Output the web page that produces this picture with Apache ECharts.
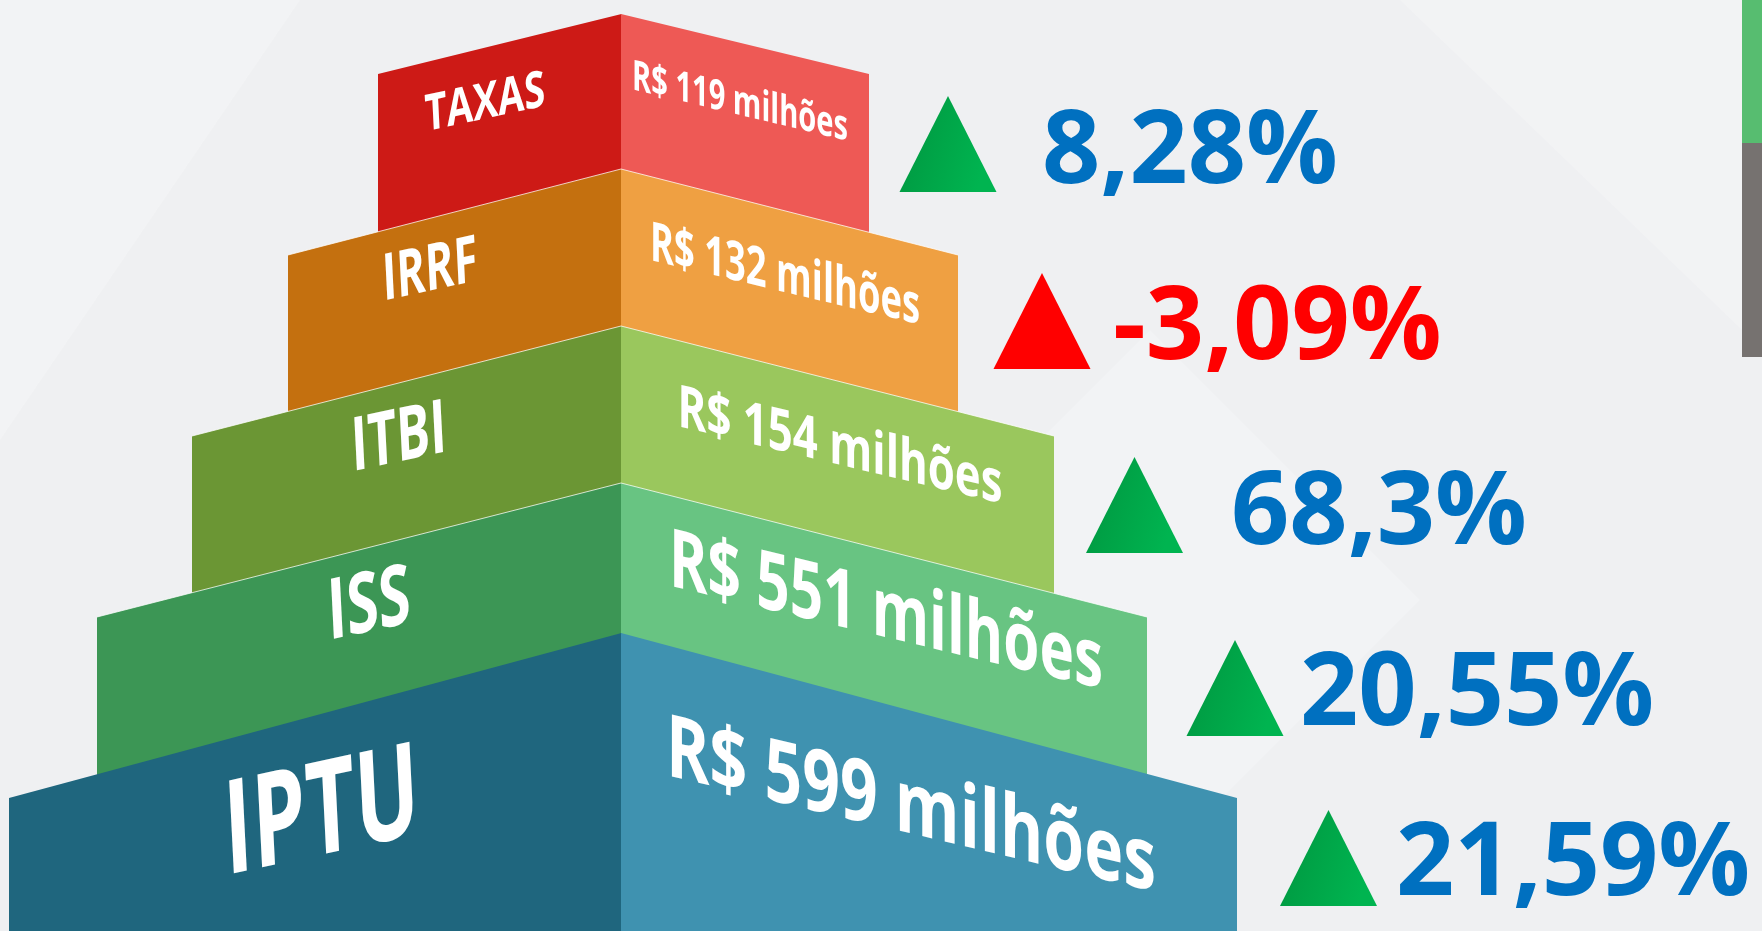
<!DOCTYPE html>
<html>
<head>
<meta charset="utf-8">
<title>Arrecadação por tributo</title>
<script src="https://cdn.jsdelivr.net/npm/echarts@6/dist/echarts.min.js"></script>
<style>
  html, body { margin: 0; padding: 0; background: #eff0f2; }
  #chart { width: 1762px; height: 931px; }
</style>
</head>
<body>
<div id="chart"></div>
<script>
// dados
const tributos = ['TAXAS', 'IRRF', 'ITBI', 'ISS', 'IPTU'];
const valores = [119, 132, 154, 551, 599];          // R$ milhões
const variacao = [8.28, -3.09, 68.3, 20.55, 21.59]; // %

// cores das faces (esquerda escura, direita clara)
const corEsq = ['#cd1a16', '#c4700f', '#6b9634', '#3c9655', '#1f667e'];
const corDir = ['#ee5955', '#efa042', '#9ac75d', '#68c482', '#3f92b0'];

// geometria dos degraus, em unidades do eixo x (1 = 1px)
const faceEsq = [243, 333, 429, 524, 612];
const faceDir = [248, 337, 433, 526, 616];
const subida = [60, 86, 110, 134, 165];

// rótulos: [dx, dy a partir do topo da faixa, altura da maiúscula, largura]
const rotEsq = [[-136, 30, 36, 120], [-191, 17, 46, 95], [-222, 4, 53, 95], [-252, -10, 60, 83], [-299, 19, 93, 195]];
const rotDir = [[119, 29, 30, 216], [164, 21.5, 39, 270], [219, 12, 42, 325], [265, -3, 58, 434], [290, 10.6, 62, 490]];

// indicadores de variação
const triX = [327, 421, 513.5, 614, 707.5];
const triBase = [118, 114, 117, 119, 108];
const txtX = [421, 492, 610, 679, 775];
const txtDy = [79.5, 74.5, 78.5, 78.5, 67.5];

const FONTE_ROT = '"Open Sans"';
const ctx = document.createElement('canvas').getContext('2d');
function largura(txt, fs) {
  ctx.font = 'bold ' + fs + 'px ' + FONTE_ROT;
  return ctx.measureText(txt).width;
}

// decompõe M = [[sx, t*sy],[k*sx, sy]] em rotação · escala · rotação
function cisalha(sx, sy, k, t) {
  const a = sx, b = t * sy, c = k * sx, d = sy;
  const E = (a + d) / 2, F = (a - d) / 2, G = (c + b) / 2, H = (c - b) / 2;
  const Q = Math.hypot(E, H), R = Math.hypot(F, G);
  const a1 = Math.atan2(G, F), a2 = Math.atan2(H, E);
  return { s1: Q + R, s2: Q - R, theta: (a2 - a1) / 2, phi: (a2 + a1) / 2 };
}

function rotulo(txt, x, y, cap, larg, k, t) {
  const fs = cap / 0.714;
  const sx = larg / largura(txt, fs);
  const m = cisalha(sx, 1, k, t);
  return {
    type: 'group', x: x, y: y, rotation: -m.phi, scaleX: m.s1, scaleY: m.s2,
    children: [{
      type: 'text', rotation: -m.theta,
      style: {
        text: txt, fontSize: fs, fontFamily: FONTE_ROT, fontWeight: 'bold', fill: '#ffffff',
        align: 'center', verticalAlign: 'middle', textAlign: 'center', textVerticalAlign: 'middle'
      }
    }]
  };
}

function desenhaDegrau(params, api) {
  const i = api.value(1);
  const meio = api.coord([0, i]);
  const faixa = api.size([0, 1])[1];
  const topo = meio[1] - faixa / 2;
  const cx = meio[0];
  const xl = api.coord([-faceEsq[i], i])[0];
  const xr = api.coord([faceDir[i], i])[0];
  const apice = topo - subida[i];
  const base = params.coordSys.y + params.coordSys.height;
  const children = [
    { type: 'polygon', shape: { points: [[xl, topo], [cx + 0.5, apice], [cx + 0.5, base], [xl, base]] }, style: { fill: corEsq[i] } },
    { type: 'polygon', shape: { points: [[cx, apice], [xr, topo], [xr, base], [cx, base]] }, style: { fill: corDir[i] } }
  ];
  if (i > 0 && i < 4) {
    children.push({ type: 'polyline', shape: { points: [[xl, topo], [cx, apice], [xr, topo]] },
      style: { stroke: 'rgba(255,255,255,0.75)', lineWidth: 1, fill: null } });
  }
  const e = rotEsq[i], d = rotDir[i];
  children.push(rotulo(tributos[i], cx + e[0], topo + e[1], e[2], e[3], -0.215, 0.05));
  children.push(rotulo('R$ ' + api.value(2) + ' milhões', cx + d[0], topo + d[1], d[2], d[3], 0.238, 0));
  return { type: 'group', children: children };
}

const verde = {
  type: 'linear', x: 0, y: 0, x2: 1, y2: 0.3,
  colorStops: [{ offset: 0, color: '#00953f' }, { offset: 1, color: '#00b450' }]
};

function desenhaVariacao(params, api) {
  const i = api.value(1);
  const v = api.value(2);
  const meio = api.coord([0, i]);
  const topo = meio[1] - api.size([0, 1])[1] / 2;
  const tx = api.coord([triX[i], i])[0];
  const by = topo + triBase[i];
  return {
    type: 'group',
    children: [
      { type: 'polygon', shape: { points: [[tx - 48.5, by], [tx, by - 96], [tx + 48.5, by]] },
        style: { fill: v < 0 ? '#ff0000' : verde } },
      { type: 'text', x: api.coord([txtX[i], i])[0], y: topo + txtDy[i],
        style: {
          text: String(v).replace('.', ',') + '%', fontSize: 102, fontWeight: 'bold',
          fontFamily: '"Open Sans"', fill: v < 0 ? '#ff0000' : '#0070c0',
          align: 'left', verticalAlign: 'middle', textAlign: 'left', textVerticalAlign: 'middle'
        } }
    ]
  };
}

const chart = echarts.init(document.getElementById('chart'));
chart.setOption({
  backgroundColor: '#eff0f2',
  animation: false,
  grid: { left: 0, right: 0, top: 74, bottom: -48, outerBoundsMode: 'none' },
  xAxis: { type: 'value', min: -621, max: 1141, show: false },
  yAxis: { type: 'category', data: tributos, inverse: true, show: false },
  graphic: [
    { type: 'polygon', z: -10, shape: { points: [[0, 0], [300, 0], [0, 440]] }, style: { fill: 'rgba(255,255,255,0.22)' } },
    { type: 'polygon', z: -10, shape: { points: [[1150, 330], [1420, 600], [1150, 870], [880, 600]] }, style: { fill: 'rgba(255,255,255,0.22)' } },
    { type: 'polygon', z: -10, shape: { points: [[1400, 0], [1742, 0], [1742, 330]] }, style: { fill: 'rgba(255,255,255,0.2)' } },
    { type: 'rect', shape: { x: 1742, y: 0, width: 20, height: 143 }, style: { fill: '#57bd70' } },
    { type: 'rect', shape: { x: 1742, y: 143, width: 20, height: 214 }, style: { fill: '#767270' } }
  ],
  series: [
    {
      type: 'custom', name: 'Arrecadação', silent: true, clip: false,
      encode: { x: 0, y: 1 },
      data: valores.map((v, i) => [0, i, v]),
      renderItem: desenhaDegrau
    },
    {
      type: 'custom', name: 'Variação', silent: true, clip: false,
      encode: { x: 0, y: 1 },
      data: variacao.map((v, i) => [0, i, v]),
      renderItem: desenhaVariacao
    }
  ]
});
</script>
</body>
</html>
